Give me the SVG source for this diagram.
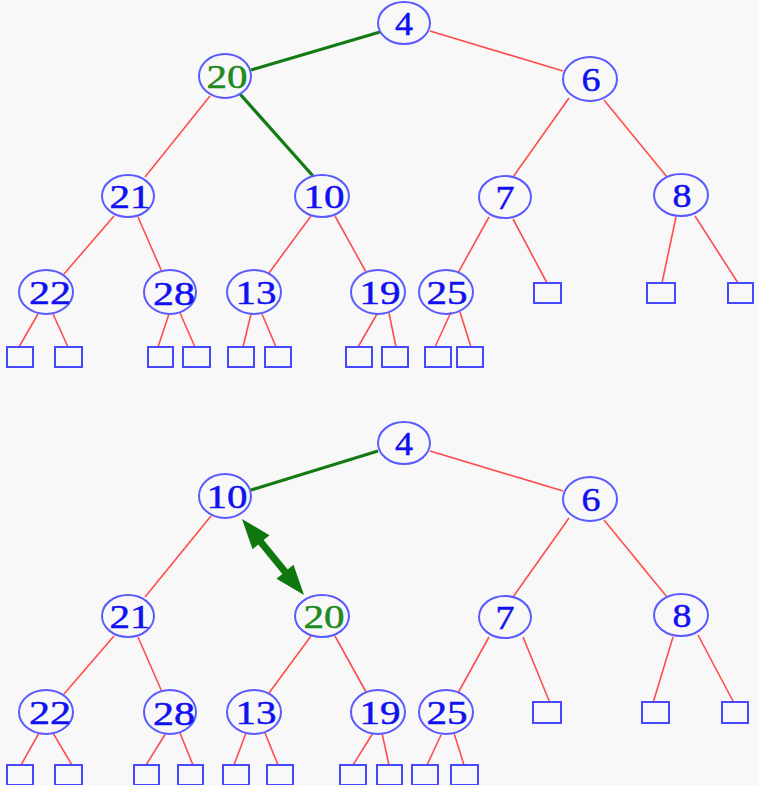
<svg xmlns="http://www.w3.org/2000/svg" width="759" height="785" viewBox="0 0 759 785">
<style>
.n ellipse{fill:none;stroke:#5a5aff;stroke-width:2}
.n text{font-family:"Liberation Serif","Times New Roman",serif;font-size:34px;fill:#1010f0;stroke:#1010f0;stroke-width:0.5;text-anchor:middle}
.n text.g{fill:#1f8a1f;stroke:#1f8a1f}
.leaf{fill:none;stroke:#4848ff;stroke-width:2}
.e line{stroke:#ff4d4d;stroke-width:1.6}
.e line.gr{stroke:#147a14;stroke-width:3.2}
.arrow{fill:#0e780e}
</style>
<rect width="759" height="785" fill="#f8f8f8"/>
<g id="connectors" class="e">
<line class="gr" x1="380" y1="32" x2="251" y2="70"/>
<line x1="430" y1="31" x2="563" y2="71"/>
<line x1="210" y1="96" x2="145" y2="177"/>
<line class="gr" x1="240" y1="94" x2="313" y2="176"/>
<line x1="569" y1="98" x2="513" y2="177"/>
<line x1="604" y1="100" x2="667" y2="177"/>
<line x1="114" y1="216" x2="64" y2="274"/>
<line x1="138" y1="217" x2="162" y2="272"/>
<line x1="311" y1="216" x2="269" y2="273"/>
<line x1="335" y1="216" x2="366" y2="272"/>
<line x1="489" y1="217" x2="458" y2="273"/>
<line x1="513" y1="219" x2="547" y2="283"/>
<line x1="676" y1="217" x2="662" y2="283"/>
<line x1="695" y1="216" x2="738" y2="283"/>
<line x1="38" y1="314" x2="19" y2="347"/>
<line x1="53" y1="314" x2="68" y2="347"/>
<line x1="169" y1="314" x2="158" y2="347"/>
<line x1="180" y1="313" x2="195" y2="347"/>
<line x1="251" y1="314" x2="243" y2="347"/>
<line x1="262" y1="314" x2="276" y2="347"/>
<line x1="377" y1="314" x2="358" y2="347"/>
<line x1="389" y1="313" x2="396" y2="347"/>
<line x1="451" y1="312" x2="435" y2="347"/>
<line x1="460" y1="312" x2="471" y2="347"/>

<line class="gr" x1="378" y1="451" x2="251" y2="490"/>
<line x1="430" y1="451" x2="563" y2="491"/>
<line x1="211" y1="516" x2="145" y2="597"/>
<line x1="569" y1="518" x2="513" y2="597"/>
<line x1="604" y1="520" x2="667" y2="597"/>
<line x1="114" y1="636" x2="64" y2="694"/>
<line x1="138" y1="637" x2="162" y2="692"/>
<line x1="311" y1="636" x2="269" y2="693"/>
<line x1="335" y1="636" x2="366" y2="692"/>
<line x1="489" y1="637" x2="458" y2="693"/>
<line x1="523" y1="637" x2="550" y2="703"/>
<line x1="673" y1="637" x2="653" y2="703"/>
<line x1="698" y1="635" x2="734" y2="703"/>
<line x1="39" y1="733" x2="21" y2="765"/>
<line x1="53" y1="733" x2="72" y2="765"/>
<line x1="166" y1="733" x2="146" y2="765"/>
<line x1="180" y1="733" x2="193" y2="765"/>
<line x1="246" y1="733" x2="234" y2="765"/>
<line x1="265" y1="733" x2="278" y2="765"/>
<line x1="373" y1="733" x2="353" y2="765"/>
<line x1="382" y1="733" x2="389" y2="765"/>
<line x1="441" y1="735" x2="427" y2="765"/>
<line x1="454" y1="733" x2="464" y2="765"/>
<polygon class="arrow" points="242,519 269.5,535.3 263.7,540.1 287.7,569.5 293.5,564.7 304,595 276.5,578.7 282.3,573.9 258.3,544.5 252.5,549.3"/>
</g>

<g id="t4" class="n"><ellipse cx="404" cy="23" rx="26" ry="21"/><text x="404" y="35" textLength="18" lengthAdjust="spacingAndGlyphs">4</text></g>
<g id="t20" class="n"><ellipse cx="225" cy="76" rx="26" ry="22"/><text class="g" x="227" y="88" textLength="41" lengthAdjust="spacingAndGlyphs">20</text></g>
<g id="t6" class="n"><ellipse cx="590" cy="79" rx="27" ry="22"/><text x="591" y="91" textLength="19" lengthAdjust="spacingAndGlyphs">6</text></g>
<g id="t21" class="n"><ellipse cx="128" cy="196" rx="26" ry="21"/><text x="130" y="208" textLength="41" lengthAdjust="spacingAndGlyphs">21</text></g>
<g id="t10" class="n"><ellipse cx="322" cy="196" rx="27" ry="21"/><text x="324" y="208" textLength="41" lengthAdjust="spacingAndGlyphs">10</text></g>
<g id="t7" class="n"><ellipse cx="505" cy="197" rx="26" ry="21"/><text x="505" y="209" textLength="19" lengthAdjust="spacingAndGlyphs">7</text></g>
<g id="t8" class="n"><ellipse cx="681" cy="195" rx="27" ry="21"/><text x="682" y="207" textLength="19" lengthAdjust="spacingAndGlyphs">8</text></g>
<g id="t22" class="n"><ellipse cx="46" cy="292" rx="27" ry="22"/><text x="50" y="304" textLength="42" lengthAdjust="spacingAndGlyphs">22</text></g>
<g id="t28" class="n"><ellipse cx="170" cy="292" rx="26" ry="22"/><text x="174" y="305" textLength="42" lengthAdjust="spacingAndGlyphs">28</text></g>
<g id="t13" class="n"><ellipse cx="254" cy="292" rx="27" ry="22"/><text x="256" y="304" textLength="41" lengthAdjust="spacingAndGlyphs">13</text></g>
<g id="t19" class="n"><ellipse cx="378" cy="292" rx="27" ry="22"/><text x="380" y="304" textLength="41" lengthAdjust="spacingAndGlyphs">19</text></g>
<g id="t25" class="n"><ellipse cx="446" cy="292" rx="27" ry="22"/><text x="447" y="304" textLength="41" lengthAdjust="spacingAndGlyphs">25</text></g>

<g id="top-leaves">
<rect class="leaf" x="7" y="347" width="26" height="20"/>
<rect class="leaf" x="55" y="347" width="27" height="20"/>
<rect class="leaf" x="148" y="347" width="25" height="20"/>
<rect class="leaf" x="183" y="347" width="27" height="20"/>
<rect class="leaf" x="228" y="347" width="26" height="20"/>
<rect class="leaf" x="265" y="347" width="26" height="20"/>
<rect class="leaf" x="346" y="347" width="26" height="20"/>
<rect class="leaf" x="382" y="347" width="26" height="20"/>
<rect class="leaf" x="425" y="347" width="26" height="20"/>
<rect class="leaf" x="457" y="347" width="26" height="20"/>
<rect class="leaf" x="534" y="283" width="27" height="20"/>
<rect class="leaf" x="647" y="283" width="28" height="20"/>
<rect class="leaf" x="728" y="283" width="25" height="20"/>
</g>

<g id="b4" class="n"><ellipse cx="404" cy="443" rx="26" ry="21"/><text x="404" y="455" textLength="18" lengthAdjust="spacingAndGlyphs">4</text></g>
<g id="b10" class="n"><ellipse cx="225" cy="496" rx="26" ry="22"/><text x="227" y="508" textLength="41" lengthAdjust="spacingAndGlyphs">10</text></g>
<g id="b6" class="n"><ellipse cx="590" cy="499" rx="27" ry="22"/><text x="591" y="511" textLength="19" lengthAdjust="spacingAndGlyphs">6</text></g>
<g id="b21" class="n"><ellipse cx="128" cy="616" rx="26" ry="21"/><text x="130" y="628" textLength="41" lengthAdjust="spacingAndGlyphs">21</text></g>
<g id="b20" class="n"><ellipse cx="322" cy="616" rx="27" ry="21"/><text class="g" x="324" y="628" textLength="41" lengthAdjust="spacingAndGlyphs">20</text></g>
<g id="b7" class="n"><ellipse cx="505" cy="617" rx="26" ry="21"/><text x="505" y="629" textLength="19" lengthAdjust="spacingAndGlyphs">7</text></g>
<g id="b8" class="n"><ellipse cx="681" cy="615" rx="27" ry="21"/><text x="682" y="627" textLength="19" lengthAdjust="spacingAndGlyphs">8</text></g>
<g id="b22" class="n"><ellipse cx="46" cy="712" rx="27" ry="22"/><text x="50" y="724" textLength="42" lengthAdjust="spacingAndGlyphs">22</text></g>
<g id="b28" class="n"><ellipse cx="170" cy="712" rx="26" ry="22"/><text x="174" y="725" textLength="42" lengthAdjust="spacingAndGlyphs">28</text></g>
<g id="b13" class="n"><ellipse cx="254" cy="712" rx="27" ry="22"/><text x="256" y="724" textLength="41" lengthAdjust="spacingAndGlyphs">13</text></g>
<g id="b19" class="n"><ellipse cx="378" cy="712" rx="27" ry="22"/><text x="380" y="724" textLength="41" lengthAdjust="spacingAndGlyphs">19</text></g>
<g id="b25" class="n"><ellipse cx="446" cy="712" rx="27" ry="22"/><text x="447" y="724" textLength="41" lengthAdjust="spacingAndGlyphs">25</text></g>

<g id="bottom-leaves">
<rect class="leaf" x="7" y="765" width="26" height="20"/>
<rect class="leaf" x="55" y="765" width="27" height="20"/>
<rect class="leaf" x="134" y="765" width="25" height="20"/>
<rect class="leaf" x="178" y="765" width="25" height="20"/>
<rect class="leaf" x="223" y="765" width="26" height="20"/>
<rect class="leaf" x="267" y="765" width="26" height="20"/>
<rect class="leaf" x="340" y="765" width="26" height="20"/>
<rect class="leaf" x="377" y="765" width="25" height="20"/>
<rect class="leaf" x="412" y="765" width="26" height="20"/>
<rect class="leaf" x="451" y="765" width="27" height="20"/>
<rect class="leaf" x="533" y="702" width="28" height="21"/>
<rect class="leaf" x="642" y="702" width="27" height="21"/>
<rect class="leaf" x="722" y="702" width="26" height="21"/>
</g>
</svg>
